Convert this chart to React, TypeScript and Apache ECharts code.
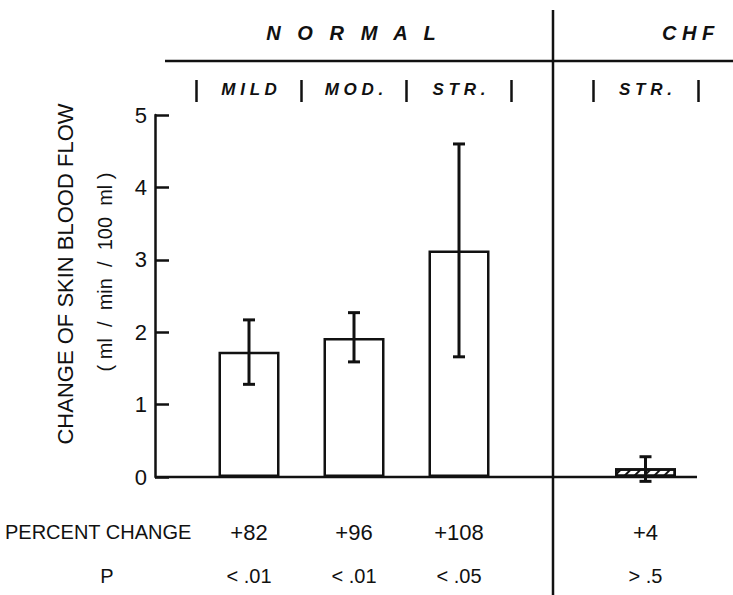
import React, { useEffect, useRef } from "react";
import * as echarts from "echarts";

// ---- data ----
const normalCategories = ["MILD", "MOD.", "STR."];
const normalMeans = [1.73, 1.92, 3.13];
const normalLow = [1.28, 1.59, 1.66];
const normalHigh = [2.17, 2.27, 4.6];
const normalPercent = ["+82", "+96", "+108"];
const normalP = ["< .01", "< .01", "< .05"];

const chfCategories = ["STR."];
const chfMeans = [0.12];
const chfLow = [-0.06];
const chfHigh = [0.28];
const chfPercent = ["+4"];
const chfP = ["> .5"];

const yMin = 0;
const yMax = 5;
const yInterval = 1;

const FONT = "'Liberation Sans', Arial, sans-serif";
const BLACK = "#111";

function errorRender(params: any, api: any) {
  const i = api.value(0);
  const lo = api.coord([i, api.value(1)]);
  const hi = api.coord([i, api.value(2)]);
  const half = 6;
  const style = { stroke: BLACK, lineWidth: 3, fill: "none" };
  return {
    type: "group",
    children: [
      { type: "line", shape: { x1: hi[0], y1: hi[1], x2: lo[0], y2: lo[1] }, style },
      { type: "line", shape: { x1: hi[0] - half, y1: hi[1], x2: hi[0] + half, y2: hi[1] }, style },
      { type: "line", shape: { x1: lo[0] - half, y1: lo[1], x2: lo[0] + half, y2: lo[1] }, style },
    ],
  };
}

function bottomAxis(gridIndex: number, cats: string[], pct: string[], pv: string[]) {
  return {
    type: "category",
    gridIndex,
    position: "bottom",
    data: cats,
    axisLine: { show: false },
    axisTick: { show: false },
    splitLine: { show: false },
    axisLabel: {
      interval: 0,
      margin: 33,
      formatter: (_v: string, i: number) => `{a|${pct[i]}}\n{b|${pv[i]}}`,
      rich: {
        a: { fontSize: 22, lineHeight: 44, color: BLACK, fontFamily: FONT },
        b: { fontSize: 20, lineHeight: 44, color: BLACK, fontFamily: FONT },
      },
    },
  };
}

function topAxis(gridIndex: number, cats: string[]) {
  return {
    type: "category",
    gridIndex,
    position: "top",
    offset: 13,
    data: cats,
    axisLine: { show: false },
    axisTick: { show: true, length: 22, lineStyle: { color: BLACK, width: 2.5 } },
    splitLine: { show: false },
    axisLabel: {
      interval: 0,
      margin: 13,
      verticalAlign: "middle",
      formatter: (v: string) => v.split("").join(" "),
      fontSize: 17,
      fontStyle: "italic",
      fontWeight: "bold",
      fontFamily: FONT,
      color: BLACK,
    },
  };
}

export default function App() {
  const ref = useRef<HTMLDivElement>(null);
  useEffect(() => {
    if (!ref.current) return;
    const chart = echarts.init(ref.current, undefined, { renderer: "svg" });
    const lineStyle = { stroke: BLACK, lineWidth: 2.5 };
    chart.setOption({
      animation: false,
      backgroundColor: "#fff",
      textStyle: { fontFamily: FONT },
      grid: [
        { left: 196.5, width: 315, top: 115, height: 362 },
        { left: 593, width: 105, top: 115, height: 362 },
      ],
      xAxis: [
        bottomAxis(0, normalCategories, normalPercent, normalP),
        topAxis(0, normalCategories),
        bottomAxis(1, chfCategories, chfPercent, chfP),
        topAxis(1, chfCategories),
      ],
      yAxis: [
        {
          type: "value",
          gridIndex: 0,
          min: yMin,
          max: yMax,
          interval: yInterval,
          offset: 41.5,
          axisLine: { show: true, lineStyle: { color: BLACK, width: 2.5 } },
          axisTick: { show: true, inside: true, length: 14, lineStyle: { color: BLACK, width: 2.5 } },
          splitLine: { show: false },
          axisLabel: { fontSize: 22, margin: 8, color: BLACK, fontFamily: FONT },
        },
        {
          type: "value",
          gridIndex: 1,
          min: yMin,
          max: yMax,
          interval: yInterval,
          show: false,
        },
      ],
      series: [
        {
          type: "bar",
          xAxisIndex: 0,
          yAxisIndex: 0,
          data: normalMeans,
          barWidth: 61,
          itemStyle: { color: "#fff", borderColor: BLACK, borderWidth: 2.5 },
        },
        {
          type: "custom",
          xAxisIndex: 0,
          yAxisIndex: 0,
          z: 5,
          clip: false,
          renderItem: errorRender,
          encode: { x: 0, y: [1, 2] },
          data: normalCategories.map((_c, i) => [i, normalLow[i], normalHigh[i]]),
        },
        {
          type: "bar",
          xAxisIndex: 2,
          yAxisIndex: 1,
          data: chfMeans,
          barWidth: 61,
          itemStyle: {
            color: "#fff",
            borderColor: BLACK,
            borderWidth: 2.5,
            decal: {
              symbol: "rect",
              symbolSize: 1,
              dashArrayX: [1, 0],
              dashArrayY: [2, 5],
              rotation: -Math.PI / 4,
              color: BLACK,
              backgroundColor: "#fff",
            },
          },
        },
        {
          type: "custom",
          xAxisIndex: 2,
          yAxisIndex: 1,
          z: 5,
          clip: false,
          renderItem: errorRender,
          encode: { x: 0, y: [1, 2] },
          data: chfCategories.map((_c, i) => [i, chfLow[i], chfHigh[i]]),
        },
      ],
      graphic: [
        { type: "line", shape: { x1: 155, y1: 477, x2: 697, y2: 477 }, style: lineStyle, z: 10 },
        { type: "line", shape: { x1: 165, y1: 61, x2: 733, y2: 61 }, style: lineStyle },
        { type: "line", shape: { x1: 553, y1: 10, x2: 553, y2: 595 }, style: lineStyle },
        {
          type: "text",
          x: 351,
          y: 33,
          style: {
            text: "N   O   R   M   A   L",
            fontSize: 20,
            fontStyle: "italic",
            fontWeight: "bold",
            fontFamily: FONT,
            fill: BLACK,
            align: "center",
            verticalAlign: "middle",
          },
        },
        {
          type: "text",
          x: 688,
          y: 33,
          style: {
            text: "C H F",
            fontSize: 20,
            fontStyle: "italic",
            fontWeight: "bold",
            fontFamily: FONT,
            fill: BLACK,
            align: "center",
            verticalAlign: "middle",
          },
        },
        {
          type: "text",
          x: 65,
          y: 274,
          rotation: Math.PI / 2,
          style: {
            text: "CHANGE OF SKIN BLOOD FLOW",
            fontSize: 22,
            fontFamily: FONT,
            fill: BLACK,
            align: "center",
            verticalAlign: "middle",
          },
        },
        {
          type: "text",
          x: 105,
          y: 272,
          rotation: Math.PI / 2,
          style: {
            text: "( ml  /  min  /  100  ml )",
            fontSize: 20,
            fontFamily: FONT,
            fill: BLACK,
            align: "center",
            verticalAlign: "middle",
          },
        },
        {
          type: "text",
          x: 5,
          y: 532,
          style: {
            text: "PERCENT CHANGE",
            fontSize: 20,
            fontFamily: FONT,
            fill: BLACK,
            align: "left",
            verticalAlign: "middle",
          },
        },
        {
          type: "text",
          x: 107,
          y: 576,
          style: {
            text: "P",
            fontSize: 20,
            fontFamily: FONT,
            fill: BLACK,
            align: "center",
            verticalAlign: "middle",
          },
        },
      ],
    });
    return () => chart.dispose();
  }, []);
  return (
    <div
      ref={ref}
      style={{ position: "absolute", left: 0, top: 0, width: 733, height: 595 }}
    />
  );
}
